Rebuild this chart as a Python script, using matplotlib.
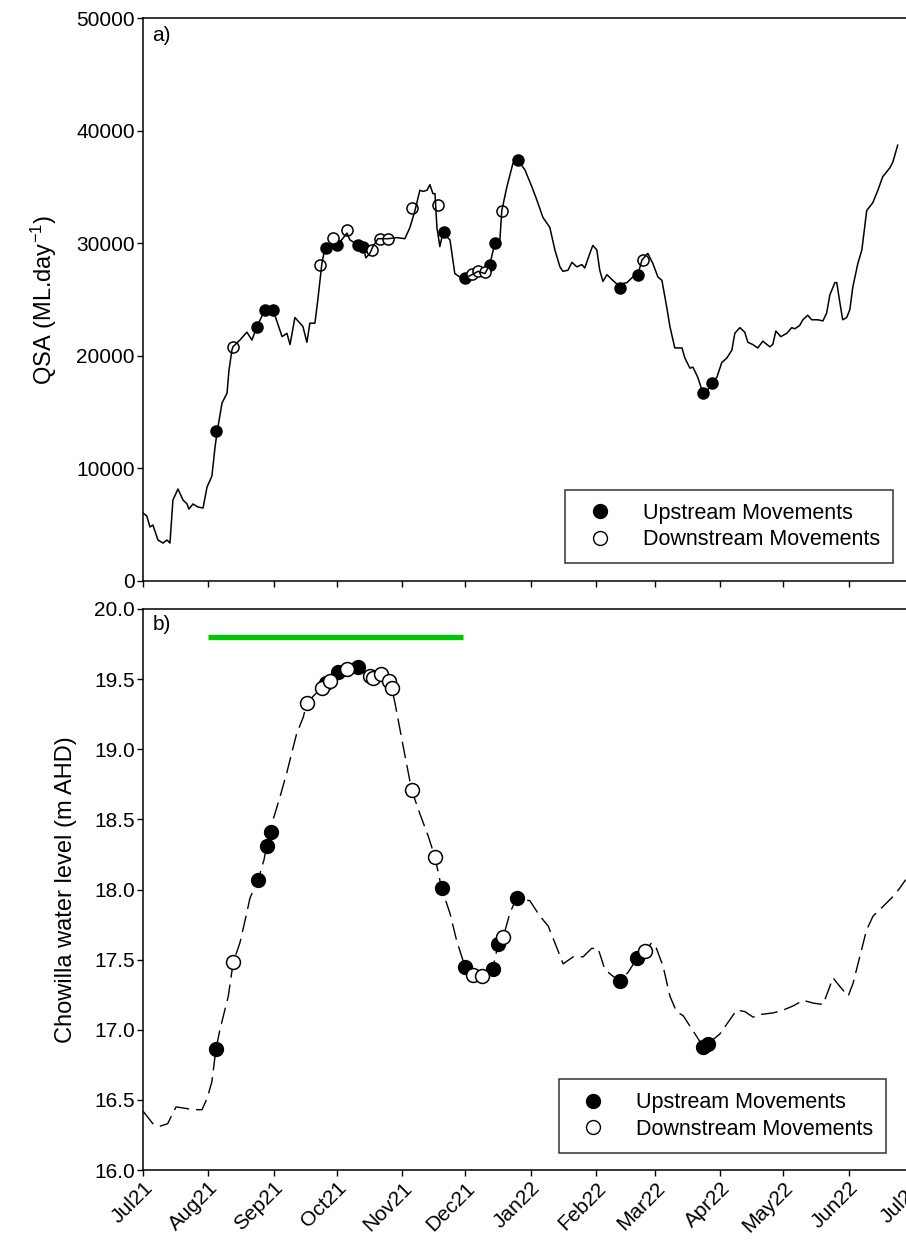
import datetime as dt
import matplotlib
matplotlib.use("Agg")
import matplotlib.pyplot as plt
import matplotlib.dates as mdates
from matplotlib.lines import Line2D
from matplotlib.ticker import FormatStrFormatter
from matplotlib.transforms import IdentityTransform

plt.rcParams['font.family'] = ['Liberation Sans', 'DejaVu Sans']
plt.rcParams['mathtext.default'] = 'regular'

START = dt.datetime(2021, 7, 1)

# daily flow to South Australia (days since 1 Jul 2021)
qsa_day = [0, 1.8, 3.3, 4.7, 7.1, 9.5, 11.4, 12.8, 14.2, 16.6,
           19.0, 20.9, 21.8, 23.7, 26.1, 28.5, 30.4, 32.7, 34.2, 35.1,
           37.5, 39.9, 40.8, 42.2, 42.7, 46.0, 49.3, 51.7, 54.1, 57.9,
           61.7, 66.0, 68.3, 69.8, 72.1, 75.9, 77.8, 79.2, 81.6, 83.0,
           84.9, 86.4, 89.7, 92.1, 93.5, 96.8, 98.2, 100.6, 104.4, 105.8,
           107.7, 109.1, 111.5, 116.3, 120.5, 124.3, 126.7, 129.1, 131.4, 132.9,
           134.8, 136.2, 137.6, 138.6, 139.5, 140.9, 142.3, 145.7, 148.0, 150.4,
           152.8, 156.1, 159.0, 162.3, 164.6, 167.0, 169.4, 170.3, 172.7, 175.6,
           177.9, 181.3, 184.6, 187.0, 189.8, 193.1, 195.5, 197.9, 199.3, 201.7,
           203.6, 205.9, 208.3, 209.7, 212.1, 213.5, 215.4, 216.8, 218.3, 220.2,
           223.0, 225.4, 229.7, 232.5, 234.9, 236.8, 239.6, 242.0, 244.4, 246.3,
           248.6, 250.1, 252.4, 255.8, 257.2, 259.6, 261.0, 263.3, 265.2, 267.6,
           270.0, 272.4, 274.7, 277.1, 279.5, 280.9, 283.3, 285.6, 287.1, 289.4,
           291.8, 294.2, 297.5, 298.9, 300.4, 302.7, 305.6, 307.9, 309.4, 311.7,
           313.2, 315.5, 317.4, 320.3, 322.7, 324.5, 326.0, 328.4, 329.3, 330.7,
           332.1, 334.0, 335.5, 336.9, 339.3, 341.2, 343.5, 346.4, 348.8, 351.1,
           354.5, 355.9, 358.2]
qsa = [6040, 5770, 4800, 4970, 3640, 3370, 3640, 3370, 7190, 8170,
       7190, 6840, 6390, 6840, 6570, 6480, 8350, 9320, 11900, 13140,
       15800, 16700, 18700, 20500, 20800, 21400, 22100, 21400, 22600, 24100,
       24100, 21700, 22000, 21000, 23400, 22600, 21200, 22900, 22900, 25000,
       28200, 29600, 29800, 29700, 30100, 30900, 30300, 30000, 29700, 28700,
       29100, 29700, 30400, 30400, 30500, 30400, 31400, 32900, 34700, 34600,
       34700, 35200, 34400, 34400, 31400, 29700, 30900, 30300, 27300, 27000,
       26900, 27200, 27500, 27300, 28100, 30000, 30300, 32900, 35000, 37100,
       37400, 36500, 35000, 33800, 32300, 31400, 29400, 27900, 27500, 27600,
       28300, 27900, 28100, 27800, 29100, 29800, 29400, 27600, 26600, 27200,
       26700, 26300, 26500, 27000, 27200, 28500, 29100, 28200, 27000, 26700,
       24300, 22600, 20700, 20700, 19800, 18900, 19000, 18100, 17000, 16800,
       17600, 18100, 19400, 19800, 20500, 22000, 22500, 22100, 21200, 21000,
       20700, 21300, 20800, 21000, 22200, 21700, 22000, 22500, 22400, 22700,
       23200, 23600, 23200, 23200, 23100, 23800, 25400, 26500, 26500, 24800,
       23200, 23400, 24100, 26100, 28200, 29400, 32900, 33600, 34700, 35900,
       36700, 37200, 38700]

# fish movements against flow
up_day_a = [34.6, 54.1, 57.9, 61.7, 86.8, 92.1, 102.0, 104.4, 142.8, 152.8,
            164.6, 167.0, 177.9, 226.3, 234.9, 265.7, 270.0]
up_qsa = [13300, 22600, 24100, 24100, 29600, 29800, 29800, 29700, 31000, 26900,
          28100, 30000, 37400, 26000, 27200, 16700, 17600]
down_day_a = [42.7, 84.0, 90.2, 96.8, 108.7, 112.5, 116.3, 127.6, 140.0, 156.1,
              159.0, 162.3, 170.3, 237.3]
down_qsa = [20800, 28100, 30500, 31200, 29400, 30400, 30400, 33100, 33400, 27300,
            27500, 27400, 32900, 28500]

# Chowilla water level (m AHD)
wl_day = [0, 4.7, 7.6, 11.7, 15.7, 19.9, 24.0, 28.0, 30.4, 32.7,
          34.6, 36.5, 40.5, 42.8, 46.0, 48.9, 50.8, 54.7, 57.4, 58.7,
          60.7, 61.8, 65.0, 68.2, 72.9, 76.1, 77.7, 84.8, 89.5, 96.7,
          102.2, 107.7, 112.8, 118.0, 119.6, 123.5, 127.5, 131.4, 135.4, 138.6,
          141.7, 145.7, 148.8, 152.8, 156.7, 160.7, 165.9, 168.6, 171.0, 174.1,
          177.3, 183.6, 188.4, 192.3, 195.5, 199.4, 204.2, 208.9, 212.9, 216.0,
          219.2, 223.2, 226.3, 230.3, 234.5, 238.2, 241.4, 243.7, 246.9, 250.1,
          253.2, 256.4, 257.7, 265.9, 268.2, 273.8, 278.5, 281.7, 285.6, 289.6,
          293.6, 299.1, 303.8, 308.6, 313.3, 318.1, 322.8, 327.5, 330.7, 334.7,
          337.0, 340.2, 343.4, 346.5, 351.3, 356.0, 359.2, 362.0]
wl = [16.42, 16.33, 16.31, 16.33, 16.45, 16.44, 16.43, 16.43, 16.51, 16.63,
      16.86, 17.00, 17.24, 17.48, 17.62, 17.81, 17.94, 18.07, 18.21, 18.31,
      18.40, 18.50, 18.66, 18.83, 19.11, 19.23, 19.33, 19.44, 19.51, 19.57,
      19.58, 19.52, 19.54, 19.44, 19.33, 19.02, 18.71, 18.54, 18.38, 18.23,
      18.01, 17.83, 17.64, 17.45, 17.39, 17.38, 17.43, 17.61, 17.66, 17.83,
      17.94, 17.92, 17.81, 17.74, 17.62, 17.47, 17.52, 17.52, 17.58, 17.58,
      17.43, 17.38, 17.35, 17.41, 17.51, 17.56, 17.62, 17.58, 17.45, 17.24,
      17.13, 17.10, 17.07, 16.88, 16.90, 16.97, 17.07, 17.14, 17.13, 17.09,
      17.11, 17.12, 17.14, 17.17, 17.21, 17.19, 17.18, 17.37, 17.31, 17.24,
      17.33, 17.52, 17.71, 17.81, 17.88, 17.95, 18.01, 18.07]

up_day_b = [34.6, 54.7, 58.7, 60.7, 87.0, 92.7, 102.2, 141.7, 152.8, 165.9,
            168.6, 177.3, 226.3, 234.5, 265.9, 268.2]
up_wl = [16.86, 18.07, 18.31, 18.41, 19.47, 19.55, 19.59, 18.01, 17.45, 17.43,
         17.61, 17.94, 17.35, 17.51, 16.88, 16.90]
down_day_b = [42.6, 77.7, 84.8, 88.7, 96.7, 107.7, 109.3, 112.8, 116.9, 118.0,
              127.5, 138.6, 156.7, 160.7, 171.0, 238.2]
down_wl = [17.48, 19.33, 19.44, 19.49, 19.57, 19.52, 19.51, 19.54, 19.49, 19.44,
           18.71, 18.23, 17.39, 17.38, 17.66, 17.56]

# managed inundation period
event_dates = [dt.datetime(2021, 8, 1), dt.datetime(2021, 11, 30)]
event_level = [19.8, 19.8]

month_ticks = [dt.datetime(2021 + (6 + i) // 12, (6 + i) % 12 + 1, 1) for i in range(13)]


def to_dates(days):
    return [START + dt.timedelta(days=d) for d in days]


W, H = 906, 1255
fig = plt.figure(figsize=(W / 100, H / 100), dpi=100)
ax1 = fig.add_axes([143 / W, 1 - 581 / H, 769 / W, 563 / H])
ax2 = fig.add_axes([143 / W, 1 - 1170 / H, 769 / W, 561 / H])

# a) flow
ax1.plot(to_dates(up_day_a), up_qsa, 'o', ms=8, mfc='black', mec='black', zorder=2)
ax1.plot(to_dates(down_day_a), down_qsa, 'o', ms=8, mfc='white', mec='black', mew=1.1, zorder=2)
ax1.plot(to_dates(qsa_day), qsa, color='black', lw=1.1, zorder=3)
ax1.set_ylim(0, 50000)
ax1.set_yticks(range(0, 50001, 10000))
ax1.set_ylabel('QSA (ML.day$^{-1}$)', fontsize=17, labelpad=12)
ax1.text(0.012, 0.985, 'a)', transform=ax1.transAxes, fontsize=15, va='top')

# b) water level
ax2.plot(event_dates, event_level, color='#00c800', lw=3.8, solid_capstyle='butt')
ax2.plot(to_dates(wl_day), wl, color='black', lw=1.0, ls=(0, (12, 5)), zorder=2)
ax2.plot(to_dates(up_day_b), up_wl, 'o', ms=10, mfc='black', mec='black', zorder=3)
ax2.plot(to_dates(down_day_b), down_wl, 'o', ms=10, mfc='white', mec='black', mew=1.1, zorder=3)
ax2.set_ylim(16.0, 20.0)
ax2.set_yticks([16.0, 16.5, 17.0, 17.5, 18.0, 18.5, 19.0, 19.5, 20.0])
ax2.yaxis.set_major_formatter(FormatStrFormatter('%.1f'))
ax2.set_ylabel('Chowilla water level (m AHD)', fontsize=17, labelpad=12)
ax2.text(0.012, 0.99, 'b)', transform=ax2.transAxes, fontsize=15, va='top')

handles = [Line2D([], [], ls='none', marker='o', ms=10, mfc='black', mec='black'),
           Line2D([], [], ls='none', marker='o', ms=10, mfc='white', mec='black')]
labels = ['Upstream Movements', 'Downstream Movements']

# legend boxes given in pixels from the top-left corner
for ax, box in ((ax1, (560, 486, 898, 567)), (ax2, (555, 1077, 890, 1155))):
    ax.set_xlim(month_ticks[0], month_ticks[-1])
    ax.set_xticks(month_ticks)
    ax.tick_params(direction='out', length=4, width=1, pad=2, labelsize=15)
    for s in ax.spines.values():
        s.set_linewidth(1.1)
    x0, y0, x1, y1 = box
    leg = ax.legend(handles, labels, loc='center', fontsize=15.5,
                    bbox_to_anchor=(x0, H - y1, x1 - x0, y1 - y0),
                    bbox_transform=IdentityTransform(), frameon=True, fancybox=False,
                    borderpad=0.6, handletextpad=1.0, labelspacing=0.25,
                    handlelength=2.0)
    leg.get_frame().set_edgecolor('black')
    leg.get_frame().set_linewidth(1.1)

ax1.set_xticklabels([])
ax2.xaxis.set_major_formatter(mdates.DateFormatter('%b%y'))
plt.setp(ax2.get_xticklabels(), rotation=45, ha='right', rotation_mode='anchor')

fig.savefig('out.png', dpi=100)
